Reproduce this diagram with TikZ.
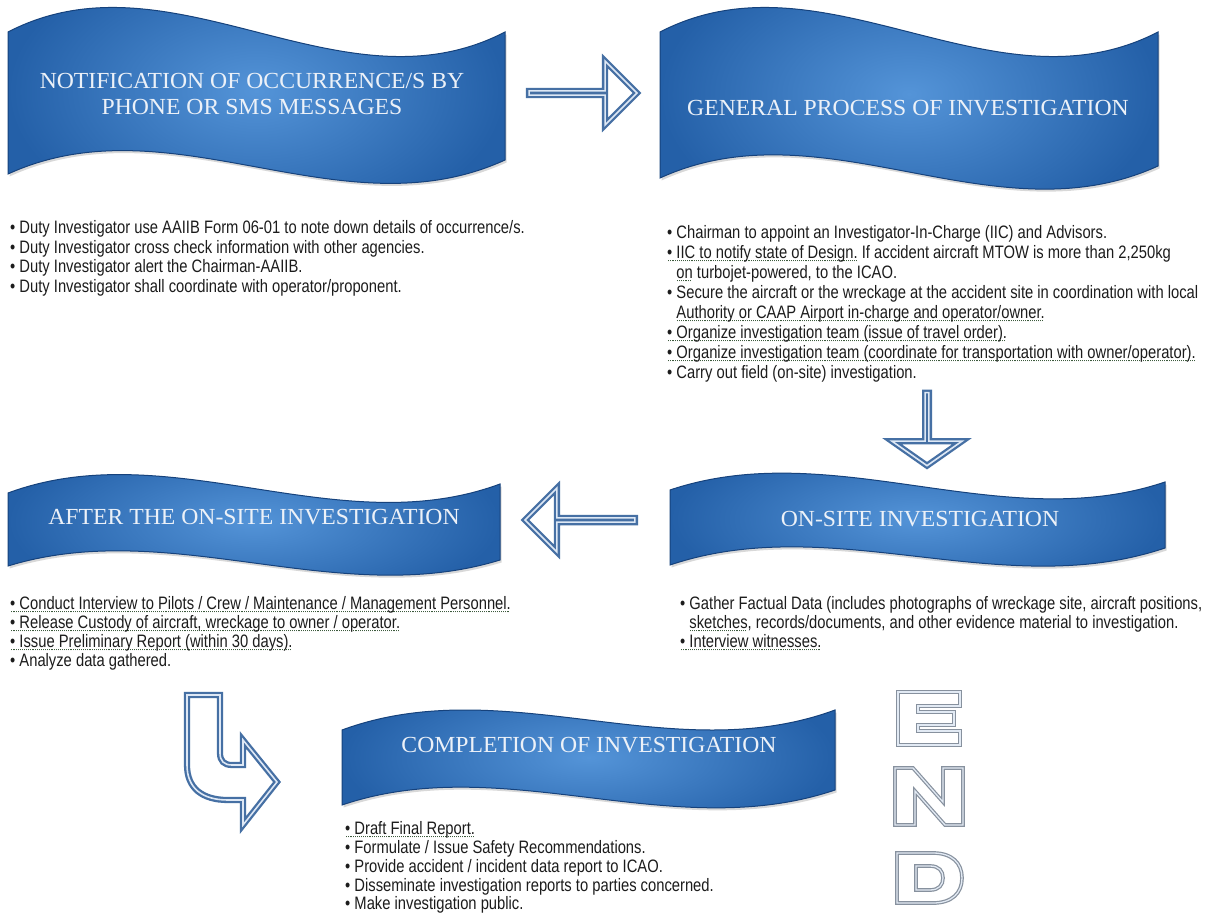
\documentclass[tikz,border=0pt]{standalone}
\usepackage{fontspec}
\setmainfont[FakeStretch=1.03]{Liberation Serif}
\newfontfamily\bodyfont[FakeStretch=0.82]{Liberation Sans}
\usetikzlibrary{shapes.arrows,shadows}
\definecolor{bannerin}{RGB}{84,148,216}
\definecolor{bannerout}{RGB}{36,96,168}
\definecolor{banneredge}{RGB}{22,66,124}
\definecolor{bannertxt}{RGB}{236,241,248}
\definecolor{arrowblue}{RGB}{70,112,164}
\definecolor{arrowin}{RGB}{222,232,245}
\definecolor{ulc}{RGB}{60,90,60}
\definecolor{bodytxt}{RGB}{28,28,28}
\definecolor{endgray}{RGB}{135,145,158}
\definecolor{endin}{RGB}{226,234,244}

\newsavebox\ubox
\newcommand\dotu[1]{\sbox\ubox{#1}\rlap{\smash{\raisebox{-2.6pt}{\color{ulc}\hbox to \wd\ubox{\leaders\hbox to 1.9pt{\hss\rule{0.9pt}{0.9pt}\hss}\hfil}}}}\usebox\ubox}
\newcommand\bul{\textbullet\ }
\newcommand\ind{\hphantom{\textbullet\ }}
\newcommand\fst{\rule{0pt}{14pt}}

\newcommand\wavebanner[8]{%
  \pgfmathsetmacro\wbA{#1+0.33*(#2-#1)}%
  \pgfmathsetmacro\wbB{#1+0.67*(#2-#1)}%
  \path[bannerstyle] (#1,#3) .. controls (\wbA,#3-#7) and (\wbB,#4+#7) .. (#2,#4)
     -- (#2,#6) .. controls (\wbB,#6+#8) and (\wbA,#5-#8) .. (#1,#5) -- cycle;}

\tikzset{
  bannerstyle/.style={shade, inner color=bannerin, outer color=bannerout,
    draw=banneredge, line width=1pt,
    drop shadow={opacity=0.3, shadow xshift=1.5pt, shadow yshift=-2.5pt}},
  bannertext/.style={text=bannertxt, font=\fontsize{23}{25.5}\selectfont, align=center, inner sep=0pt},
  bullets/.style={text=bodytxt, font=\bodyfont\fontsize{18}{19.5}\selectfont, align=left,
    anchor=north west, inner sep=0pt},
  blockarrow/.style={single arrow, draw=arrowblue, double=arrowin, line width=2.3pt,
    double distance=1.6pt, inner sep=0pt, single arrow head extend=16pt},
  uarrow/.style={draw=arrowblue, double=arrowin, line width=2.3pt, double distance=1.6pt,
    line join=miter},
  endletter/.style={draw=endgray, double=endin, line width=1.2pt, double distance=1.3pt,
    line join=miter}
}

\begin{document}
\begin{tikzpicture}[x=1pt,y=-1pt]
\fill[white] (0,0) rectangle (1211,921);
\useasboundingbox (0,0) rectangle (1211,921);

% banners
\wavebanner{8}{505}{32}{32}{174}{160}{85}{75}
\wavebanner{660}{1158}{32}{32}{178}{166}{85}{75}
\wavebanner{670}{1165}{490}{482}{565}{548}{55}{55}
\wavebanner{8}{500}{493}{484}{566}{560}{60}{50}
\wavebanner{342}{835}{730}{710}{805}{790}{60}{55}

\node[bannertext] (t1) at (252,94) {NOTIFICATION OF OCCURRENCE/S BY\\PHONE OR SMS MESSAGES};
\node[bannertext] (t2) at (908,108) {GENERAL PROCESS OF INVESTIGATION};
\node[bannertext] (t3) at (920,519) {ON-SITE INVESTIGATION};
\node[bannertext] (t4) at (254,517) {AFTER THE ON-SITE INVESTIGATION};
\node[bannertext] (t5) at (589,745) {COMPLETION OF INVESTIGATION};

% block arrows
\node[blockarrow, minimum height=108pt, minimum width=64pt] (a1) at (582,93) {};
\node[blockarrow, minimum height=73pt, minimum width=70pt, single arrow head extend=20pt,
  single arrow tip angle=110, shape border rotate=270] (a2) at (927,428.5) {};
\node[blockarrow, minimum height=110pt, minimum width=64pt, shape border rotate=180] (a3) at (581,520) {};

% U-turn arrow
\path[uarrow] (187,695) -- (220,695) -- (220,753) .. controls (220,761) and (224,765) .. (232,765)
  -- (243,765) -- (243,740) -- (277,782) -- (243,825) -- (243,800) -- (228,800)
  .. controls (202,800) and (187,788) .. (187,765) -- cycle;

% bullet lists
\node[bullets] (l1) at (10,219.5) {\fst\bul Duty Investigator use AAIIB Form 06-01 to note down details of occurrence/s.\\
\bul Duty Investigator cross check information with other agencies.\\
\bul Duty Investigator alert the Chairman-AAIIB.\\
\bul Duty Investigator shall coordinate with operator/proponent.};

\node[bullets, font=\bodyfont\fontsize{18}{20}\selectfont] (l2) at (667,224.5) {\fst\bul Chairman to appoint an Investigator-In-Charge (IIC) and Advisors.\\
\dotu{\bul IIC to notify state of Design.} If accident aircraft MTOW is more than 2,250kg\\
\ind\dotu{on} turbojet-powered, to the ICAO.\\
\bul Secure the aircraft or the wreckage at the accident site in coordination with local\\
\ind\dotu{Authority or CAAP Airport in-charge and operator/owner.}\\
\dotu{\bul Organize investigation team (issue of travel order).}\\
\dotu{\bul Organize investigation team (coordinate for transportation with owner/operator).}\\
\bul Carry out field (on-site) investigation.};

\node[bullets, font=\bodyfont\fontsize{18}{19}\selectfont] (l3) at (10,595.5) {\fst\dotu{\bul Conduct Interview to Pilots / Crew / Maintenance / Management Personnel.}\\
\dotu{\bul Release Custody of aircraft, wreckage to owner / operator.}\\
\dotu{\bul Issue Preliminary Report (within 30 days).}\\
\bul Analyze data gathered.};

\node[bullets, font=\bodyfont\fontsize{18}{19}\selectfont] (l4) at (680,595.5) {\fst\bul Gather Factual Data (includes photographs of wreckage site, aircraft positions,\\
\ind\dotu{sketches}, records/documents, and other evidence material to investigation.\\
\dotu{\bul Interview witnesses.}};

\node[bullets, font=\bodyfont\fontsize{18}{18.8}\selectfont] (l5) at (345,820.5) {\fst\dotu{\bul Draft Final Report.}\\
\bul Formulate / Issue Safety Recommendations.\\
\bul Provide accident / incident data report to ICAO.\\
\bul Disseminate investigation reports to parties concerned.\\
\bul Make investigation public.};

% END letters
\begin{scope}[shift={(898,692)}]
\path[endletter] (0,0) -- (62,0) -- (62,14) -- (20,14) -- (20,20) -- (56,20) -- (56,33) -- (20,33)
  -- (20,39) -- (62,39) -- (62,53) -- (0,53) -- cycle;
\end{scope}
\begin{scope}[shift={(895,768)}]
\path[endletter] (0,0) -- (18,0) -- (48,34) -- (48,0) -- (68,0) -- (68,57) -- (50,57) -- (20,23)
  -- (20,57) -- (0,57) -- cycle;
\end{scope}
\begin{scope}[shift={(897,853)}]
\path[endletter] (0,0) -- (36,0) .. controls (55,0) and (65,10) .. (65,25) .. controls (65,40) and (55,50) .. (36,50) -- (0,50) -- cycle;
\path[endletter] (19,13) -- (33,13) .. controls (42,13) and (46,18) .. (46,25) .. controls (46,32) and (42,37) .. (33,37) -- (19,37) -- cycle;
\end{scope}
\end{tikzpicture}
\end{document}
